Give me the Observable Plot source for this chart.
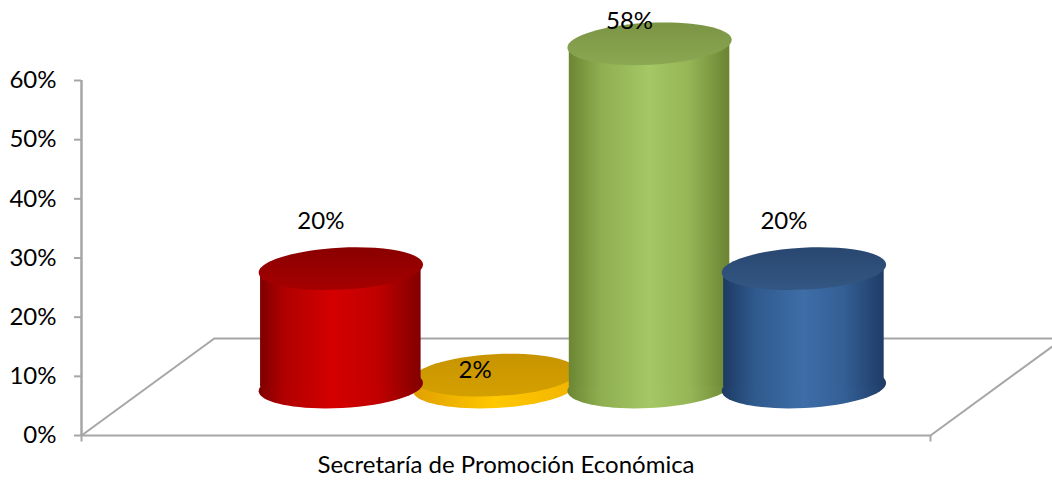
<!DOCTYPE html>
<html><head><meta charset="utf-8">
<script src="https://cdn.jsdelivr.net/npm/d3@7"></script>
<script src="https://cdn.jsdelivr.net/npm/@observablehq/plot@0.6"></script>
<style>html,body{margin:0;padding:0;background:#fff;overflow:hidden}</style>
</head><body>
<svg width="0" height="0" style="position:absolute">
  <defs>
    <linearGradient id="body0" x1="0" x2="1" y1="0" y2="0">
      <stop offset="0" stop-color="#7E0000"/><stop offset="0.15" stop-color="#B00000"/>
      <stop offset="0.45" stop-color="#D40000"/><stop offset="0.72" stop-color="#C20000"/>
      <stop offset="1" stop-color="#820000"/>
    </linearGradient>
    <linearGradient id="top0" x1="0" x2="0" y1="0" y2="1">
      <stop offset="0" stop-color="#8A0000"/><stop offset="1" stop-color="#A60000"/>
    </linearGradient>
    <linearGradient id="body1" x1="0" x2="1" y1="0" y2="0">
      <stop offset="0" stop-color="#E0A000"/><stop offset="0.5" stop-color="#FFC800"/>
      <stop offset="1" stop-color="#F2B400"/>
    </linearGradient>
    <linearGradient id="top1" x1="0" x2="0" y1="0" y2="1">
      <stop offset="0" stop-color="#C79400"/><stop offset="1" stop-color="#D4A000"/>
    </linearGradient>
    <linearGradient id="body2" x1="0" x2="1" y1="0" y2="0">
      <stop offset="0" stop-color="#6C8633"/><stop offset="0.2" stop-color="#8EAE50"/>
      <stop offset="0.5" stop-color="#A6C765"/><stop offset="0.75" stop-color="#95B556"/>
      <stop offset="1" stop-color="#6A8432"/>
    </linearGradient>
    <linearGradient id="top2" x1="0" x2="0" y1="0" y2="1">
      <stop offset="0" stop-color="#7A9445"/><stop offset="1" stop-color="#8CA852"/>
    </linearGradient>
    <linearGradient id="body3" x1="0" x2="1" y1="0" y2="0">
      <stop offset="0" stop-color="#1E3A63"/><stop offset="0.2" stop-color="#2F5A8E"/>
      <stop offset="0.5" stop-color="#3E6DA7"/><stop offset="0.75" stop-color="#335F95"/>
      <stop offset="1" stop-color="#1F3C66"/>
    </linearGradient>
    <linearGradient id="top3" x1="0" x2="0" y1="0" y2="1">
      <stop offset="0" stop-color="#284770"/><stop offset="1" stop-color="#335783"/>
    </linearGradient>
  </defs>
</svg>
<div id="chart"></div>
<script>
// ---- data ----
const category = "Secretaría de Promoción Económica";
const series = ["Serie 1", "Serie 2", "Serie 3", "Serie 4"];
const values = [0.20, 0.02, 0.58, 0.20];
const yTicks = [0, 0.1, 0.2, 0.3, 0.4, 0.5, 0.6];

// ---- layout (Excel-like 3D clustered cylinders) ----
const W = 1052, H = 490;
const mLeft = 81, mRight = 122, mTop = 80, mBottom = 55;
const GAP = 1.5;                       // gap width (in slot units)
const nSlots = series.length + GAP;
const DEPTH_X = 0.86, DEPTH_Y = 0.164; // floor depth projection, data units
const CYL_W = 1.04;                    // cylinder width in slot units
const pxPerSlot = (W - mLeft - mRight) / nSlots;
const RX = CYL_W / 2 * pxPerSlot + 2, RY = 21, TILT = -3 * Math.PI / 180;
const gray = "#A6A6A6";
const FONT = "Lato";
const FS = 24;

function ellipse(rx, ry, theta) {
  const c = Math.cos(theta), s = Math.sin(theta), k = 0.5523;
  const p = (x, y) => [x * c - y * s, x * s + y * c];
  return {
    draw(ctx) {
      const pts = [
        [rx, 0], [rx, ry * k], [rx * k, ry], [0, ry],
        [-rx * k, ry], [-rx, ry * k], [-rx, 0],
        [-rx, -ry * k], [-rx * k, -ry], [0, -ry],
        [rx * k, -ry], [rx, -ry * k], [rx, 0]
      ].map(([x, y]) => p(x, y));
      ctx.moveTo(...pts[0]);
      for (let i = 1; i < pts.length; i += 3) ctx.bezierCurveTo(...pts[i], ...pts[i + 1], ...pts[i + 2]);
      ctx.closePath();
    }
  };
}
const ell = ellipse(RX, RY, TILT);

const rows = series.map((s, i) => ({
  series: s, i, value: values[i],
  x: GAP / 2 + i + 0.5 + DEPTH_X / 2,
  base: DEPTH_Y / 2,
  top: DEPTH_Y / 2 + values[i],
  label: d3.format(".0%")(values[i])
}));

const floor = [
  {x: 0, y: 0}, {x: DEPTH_X, y: DEPTH_Y},
  {x: nSlots + DEPTH_X, y: DEPTH_Y}, {x: nSlots, y: 0}
];

const drawOrder = [1, 0, 2, 3];
const cylMarks = drawOrder.flatMap(i => {
  const r = [rows[i]];
  return [
    Plot.dot(r, {x: "x", y: "base", r: 5, symbol: ell, fill: `url(#body${i})`}),
    Plot.rect(r, {x1: d => d.x - CYL_W / 2, x2: d => d.x + CYL_W / 2, y1: "base", y2: "top", fill: `url(#body${i})`}),
    Plot.dot(r, {x: "x", y: "top", r: 5, symbol: ell, fill: `url(#top${i})`})
  ];
});

const LABEL_CAP = 0.62;
const chart = Plot.plot({
  width: W, height: H,
  marginLeft: mLeft, marginRight: mRight, marginTop: mTop, marginBottom: mBottom,
  style: {fontFamily: FONT, fontSize: FS + "px", background: "#fff", color: "#000"},
  x: {domain: [0, nSlots], axis: null, label: null},
  y: {domain: [0, 0.6], axis: null, label: null},
  marks: [
    Plot.line(floor, {x: "x", y: "y", stroke: gray, strokeWidth: 2}),
    Plot.ruleY([0], {x1: 0, x2: nSlots, stroke: gray, strokeWidth: 2}),
    Plot.ruleX([0, nSlots], {y1: 0, y2: -0.011, stroke: gray, strokeWidth: 2}),
    Plot.ruleX([0], {y1: 0, y2: 0.6, stroke: gray, strokeWidth: 2.5}),
    Plot.axisY(yTicks, {tickFormat: d3.format(".0%"), tickSize: 7, tickPadding: 18, label: null,
      stroke: gray, strokeWidth: 2, fill: "#000", fontSize: FS}),
    Plot.axisX([nSlots / 2], {tickFormat: () => category, tickSize: 0, tickPadding: 20, label: null,
      fill: "#000", fontSize: FS}),
    ...cylMarks,
    Plot.text(rows.filter(d => d.value >= 0.05), {x: "x", y: d => Math.min(d.top, LABEL_CAP),
      text: "label", dx: -20, dy: -47, fill: "#000", fontSize: FS}),
    Plot.text(rows.filter(d => d.value < 0.05), {x: "x", y: "top",
      text: "label", dx: -20, dy: -5, fill: "#000", fontSize: FS})
  ]
});
document.getElementById("chart").append(chart);
</script>
</body></html>
